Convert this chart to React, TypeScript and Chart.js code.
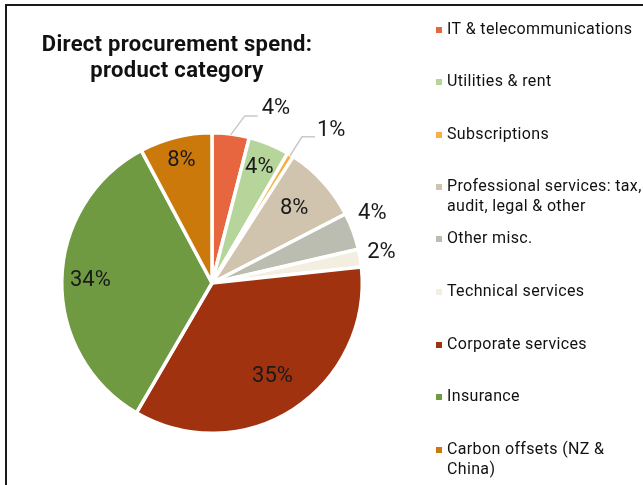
import React, { useEffect, useRef } from "react";
import { Chart, registerables } from "chart.js";

Chart.register(...registerables);

const categories = [
  "IT & telecommunications",
  "Utilities & rent",
  "Subscriptions",
  "Professional services: tax, audit, legal & other",
  "Other misc.",
  "Technical services",
  "Corporate services",
  "Insurance",
  "Carbon offsets (NZ & China)",
];
const legendLines = [
  ["IT & telecommunications"],
  ["Utilities & rent"],
  ["Subscriptions"],
  ["Professional services: tax,", "audit, legal & other"],
  ["Other misc."],
  ["Technical services"],
  ["Corporate services"],
  ["Insurance"],
  ["Carbon offsets (NZ &", "China)"],
];
const spendShare = [4.0, 4.4, 0.7, 8.3, 4.0, 1.9, 35.1, 33.8, 7.8];
const colors = [
  "#E8663F",
  "#B6D59B",
  "#F6B146",
  "#D0C4AE",
  "#BCBDB1",
  "#F3EEE0",
  "#A0320F",
  "#6F9A42",
  "#CB790A",
];
const titleLines = ["Direct procurement spend:", "product category"];

type LabelCfg =
  | { kind: "in"; f: number }
  | { kind: "out"; dx: number; dy: number }
  | { kind: "lead"; ex: number; ey: number; len: number; tx: number; ty: number };
const labelCfg: LabelCfg[] = [
  { kind: "lead", ex: 14, ey: -19, len: 13, tx: 4, ty: -7 },
  { kind: "in", f: 0.83 },
  { kind: "lead", ex: 12, ey: -19, len: 13, tx: 2, ty: -6 },
  { kind: "in", f: 0.74 },
  { kind: "out", dx: 5, dy: -18 },
  { kind: "out", dx: 7, dy: -6 },
  { kind: "in", f: 0.74 },
  { kind: "in", f: 0.81 },
  { kind: "in", f: 0.84 },
];

const FONT = "Roboto, 'Noto Sans', sans-serif";

const overlayPlugin = {
  id: "overlay",
  afterDraw(chart: any) {
    const ctx = chart.ctx as CanvasRenderingContext2D & { letterSpacing?: string };
    ctx.save();
    ctx.strokeStyle = "#1a1a1a";
    ctx.lineWidth = 2;
    ctx.strokeRect(6, 5, 1000, 1000);

    // title
    ctx.fillStyle = "#111";
    ctx.font = `bold 22px ${FONT}`;
    ctx.letterSpacing = "0.3px";
    ctx.textAlign = "center";
    ctx.textBaseline = "middle";
    ctx.fillText(titleLines[0], 177, 45);
    ctx.fillText(titleLines[1], 177, 71);
    ctx.letterSpacing = "0px";

    // data labels
    const meta = chart.getDatasetMeta(0);
    const total = spendShare.reduce((a, b) => a + b, 0);
    ctx.font = `22px ${FONT}`;
    meta.data.forEach((arc: any, i: number) => {
      const p = arc.getProps(["x", "y", "startAngle", "endAngle", "outerRadius"], true);
      const mid = (p.startAngle + p.endAngle) / 2;
      const R = p.outerRadius;
      const txt = Math.round((spendShare[i] / total) * 100) + "%";
      const cfg = labelCfg[i];
      ctx.fillStyle = "#1a1a1a";
      if (cfg.kind === "in") {
        ctx.textAlign = "center";
        ctx.textBaseline = "middle";
        ctx.fillText(txt, p.x + Math.cos(mid) * R * cfg.f, p.y + Math.sin(mid) * R * cfg.f);
      } else if (cfg.kind === "out") {
        const ex = p.x + Math.cos(mid) * R;
        const ey = p.y + Math.sin(mid) * R;
        ctx.textAlign = "left";
        ctx.textBaseline = "middle";
        ctx.fillText(txt, ex + cfg.dx, ey + cfg.dy);
      } else {
        const sx = p.x + Math.cos(mid) * (R - 1);
        const sy = p.y + Math.sin(mid) * (R - 1);
        const bx = sx + cfg.ex;
        const by = sy + cfg.ey;
        const endx = bx + cfg.len;
        ctx.strokeStyle = "#c9c9c9";
        ctx.lineWidth = 1.5;
        ctx.beginPath();
        ctx.moveTo(sx, sy);
        ctx.lineTo(bx, by);
        ctx.lineTo(endx, by);
        ctx.stroke();
        ctx.textAlign = "left";
        ctx.textBaseline = "middle";
        ctx.fillText(txt, endx + cfg.tx, by + cfg.ty);
      }
    });

    // legend
    ctx.font = `16px ${FONT}`;
    ctx.letterSpacing = "0.35px";
    ctx.textAlign = "left";
    ctx.textBaseline = "middle";
    const rowY = [30, 82, 135, 187, 239, 292, 345, 397, 450];
    legendLines.forEach((lines, i) => {
      const y = rowY[i];
      ctx.fillStyle = colors[i];
      ctx.fillRect(436, y - 3, 6, 6);
      ctx.fillStyle = "#111";
      lines.forEach((ln, j) => ctx.fillText(ln, 447, y + j * 19.5));
    });
    ctx.restore();
  },
};

export default function App() {
  const ref = useRef<HTMLCanvasElement>(null);
  useEffect(() => {
    if (!ref.current) return;
    const chart = new Chart(ref.current, {
      type: "pie",
      data: {
        labels: categories,
        datasets: [
          {
            data: spendShare,
            backgroundColor: colors,
            borderColor: "#ffffff",
            borderWidth: 3.5,
          },
        ],
      },
      options: {
        responsive: false,
        animation: false,
        layout: { padding: { left: 60, top: 131, right: 279, bottom: 50 } },
        plugins: {
          legend: { display: false },
          tooltip: { enabled: false },
          title: { display: false },
        },
      },
      plugins: [overlayPlugin],
    });
    return () => chart.destroy();
  }, []);
  return (
    <div style={{ position: "fixed", left: 0, top: 0, width: 643, height: 485, background: "#fff" }}>
      <canvas ref={ref} width={643} height={485} style={{ width: 643, height: 485, display: "block" }} />
    </div>
  );
}
